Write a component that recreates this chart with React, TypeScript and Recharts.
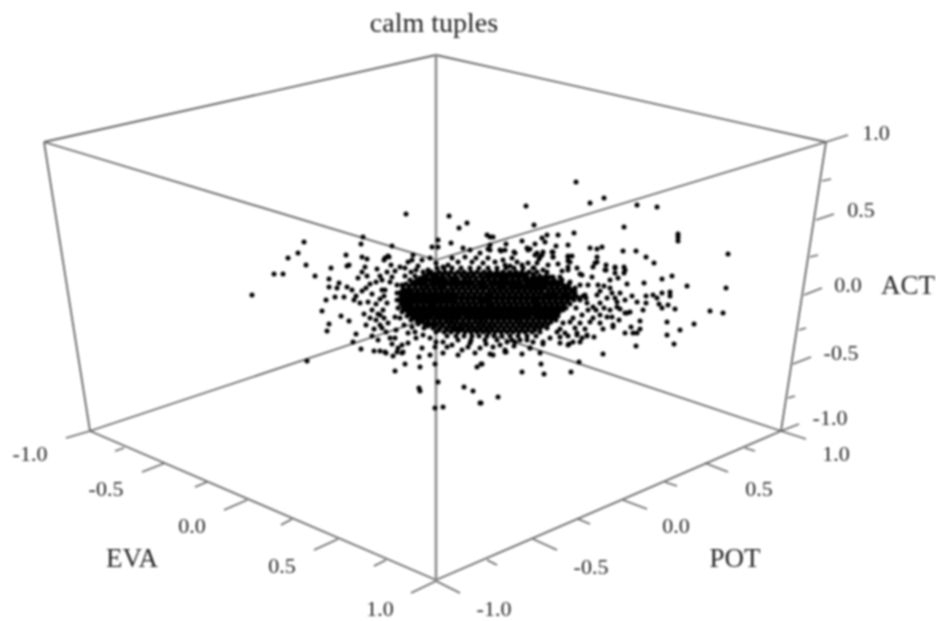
import React from 'react';
import { ScatterChart, Scatter, XAxis, YAxis, ReferenceLine, ReferenceDot } from 'recharts';

type Pt = [number, number];
type Seg = [number, number, number, number];
type Lab = [string, number, number];

// everything is read in the plane of the 3D projection (picture units)
const boxEdges: Seg[] = [
  [44, 142, 436, 55],
  [436, 55, 826, 142],
  [44, 142, 436, 260],
  [826, 142, 436, 260],
  [44, 142, 90, 431],
  [826, 142, 781, 431],
  [90, 431, 436, 580],
  [781, 431, 436, 580],
  [90, 431, 436, 316],
  [781, 431, 436, 316],
];
const frontEdge: Seg[] = [[436, 55, 436, 580]];

const evaTicks: Seg[] = [
  [90, 431, 66, 438], [124, 448, 115, 451], [165, 463, 142, 472], [207, 482, 195, 487], [247, 500, 224, 510],
  [292, 519, 281, 525], [338, 539, 314, 550], [386, 560, 374, 566], [436, 581, 411, 593],
];
const potTicks: Seg[] = [
  [436, 581, 460, 593], [487, 560, 497, 565], [533, 539, 557, 550], [578, 519, 590, 524], [623, 500, 647, 509],
  [665, 482, 677, 486], [705, 463, 728, 472], [745, 448, 755, 451], [781, 431, 806, 439],
];
const actTicks: Seg[] = [
  [826, 142, 848, 135], [822, 181, 831, 179], [816, 220, 834, 214], [810, 257, 818, 255], [804, 295, 822, 288],
  [799, 330, 806, 328], [793, 364, 811, 357], [788, 398, 795, 396], [781, 431, 799, 424],
];

const tickLabels: Lab[] = [
  ['-1.0', 30, 453], ['-0.5', 106, 488], ['0.0', 192, 525], ['0.5', 282, 565], ['1.0', 380, 608],
  ['-1.0', 494, 608], ['-0.5', 591, 566], ['0.0', 676, 525], ['0.5', 759, 488], ['1.0', 836, 453],
  ['1.0', 876, 132], ['0.5', 861, 209], ['0.0', 848, 284], ['-0.5', 841, 352], ['-1.0', 830, 417],
];
const axisLabels: Lab[] = [
  ['EVA', 132, 557],
  ['POT', 735, 557],
  ['ACT', 908, 284],
];

const leftOutliers: Pt[] = [
  [406, 214], [449, 216], [459, 228], [467, 223], [487, 235], [363, 237], [361, 244], [392, 246], [304, 242],
  [298, 253], [288, 258], [306, 265], [274, 274], [283, 274], [315, 276], [252, 295], [331, 268], [346, 255],
  [347, 266], [349, 265], [362, 257], [367, 259], [365, 267], [362, 272], [358, 278], [367, 276], [377, 269],
  [384, 260], [389, 257], [329, 279], [329, 287], [337, 288], [339, 283], [347, 287], [335, 297], [344, 297],
  [326, 300], [322, 311], [341, 316], [349, 321], [329, 324], [327, 331], [356, 334], [353, 342], [361, 349],
  [307, 361], [374, 351], [380, 351], [386, 353], [393, 356], [402, 353], [405, 364], [395, 371], [420, 367],
  [419, 357], [435, 364], [438, 382], [419, 388], [420, 391], [435, 408], [443, 407], [464, 387], [473, 391],
  [480, 403], [477, 367], [481, 364], [352, 290], [356, 296], [362, 291], [366, 288], [372, 294], [354, 300],
  [360, 303], [368, 302], [376, 304], [372, 310], [364, 314], [370, 318], [376, 320], [366, 325], [374, 329],
  [380, 299], [384, 296], [378, 314], [384, 318], [380, 325], [372, 336], [378, 340], [386, 332], [392, 344],
  [398, 348], [376, 282], [382, 280], [370, 284], [391, 265], [395, 271], [380, 276], [408, 262], [416, 270],
];

const rightOutliers: Pt[] = [
  [576, 182], [526, 206], [590, 203], [604, 198], [637, 205], [657, 207], [534, 225], [624, 227], [574, 233],
  [558, 235], [547, 235], [542, 238], [545, 242], [678, 234], [678, 237], [678, 241], [728, 254], [726, 288],
  [710, 311], [723, 313], [694, 324], [687, 286], [672, 276], [662, 279], [654, 263], [646, 257], [636, 251],
  [623, 251], [602, 247], [597, 249], [590, 248], [597, 257], [597, 262], [593, 267], [568, 245], [568, 256],
  [572, 256], [568, 261], [556, 246], [553, 252], [553, 257], [535, 244], [522, 241], [506, 244], [527, 248],
  [530, 249], [537, 253], [542, 255], [539, 259], [514, 252], [501, 251], [490, 237], [493, 237], [490, 245],
  [488, 249], [606, 265], [606, 270], [615, 267], [624, 267], [624, 273], [615, 273], [610, 280], [610, 288],
  [618, 278], [627, 284], [644, 283], [620, 293], [625, 300], [617, 302], [632, 296], [637, 302], [646, 296],
  [646, 303], [643, 310], [653, 295], [657, 298], [662, 293], [670, 292], [670, 296], [659, 304], [662, 308],
  [668, 305], [675, 309], [667, 322], [680, 330], [667, 335], [674, 344], [636, 346], [640, 321], [640, 329],
  [637, 333], [631, 327], [633, 333], [625, 333], [627, 313], [619, 320], [613, 327], [603, 354], [579, 362],
  [571, 372], [544, 374], [541, 364], [522, 372], [522, 354], [540, 353], [498, 397], [481, 403], [482, 364],
  [594, 337], [587, 336], [580, 342], [577, 335], [569, 344], [560, 337], [568, 336], [543, 344], [530, 348],
  [506, 352], [490, 354], [558, 264], [562, 271], [548, 265], [580, 274], [600, 291], [604, 286], [612, 293],
  [596, 310], [610, 310], [620, 309], [630, 312], [603, 329], [585, 329], [575, 328], [560, 329],
];

const upperLeftFringe: Pt[] = [
  [385, 258], [388, 256], [400, 267], [405, 268], [413, 255], [412, 260], [422, 260], [430, 258], [432, 247],
  [438, 240], [438, 247], [451, 243], [443, 267], [428, 270], [463, 248], [470, 250], [465, 257], [480, 253],
  [490, 250], [500, 250], [472, 262], [483, 263], [495, 262], [505, 265], [458, 262], [448, 265], [418, 266],
  [436, 263], [452, 258], [476, 258], [488, 258], [512, 258], [522, 265], [534, 268], [510, 266],
];

const leftFringe: Pt[] = [
  [387, 272], [390, 282], [382, 290], [385, 290], [397, 285], [402, 285], [397, 293], [397, 300], [387, 303],
  [383, 310], [380, 315], [395, 317], [400, 318], [388, 323], [382, 328], [390, 338], [395, 338], [408, 333],
  [415, 332], [408, 343], [402, 345], [423, 335], [422, 348], [430, 338], [435, 347], [443, 342], [452, 345],
  [462, 350], [470, 343], [480, 348], [493, 347], [505, 350], [397, 352], [403, 352], [385, 352], [430, 355],
  [443, 353], [458, 355], [475, 353], [493, 355], [392, 277], [405, 276], [411, 272], [398, 308], [404, 325],
  [412, 327], [396, 330], [416, 338], [436, 342], [447, 347], [468, 347], [486, 344], [500, 345], [514, 346],
];

const rightFringe: Pt[] = [
  [550, 277], [560, 277], [568, 270], [577, 268], [582, 275], [592, 277], [570, 282], [580, 285], [588, 285],
  [597, 295], [607, 298], [600, 303], [615, 298], [617, 307], [625, 313], [612, 317], [600, 315], [593, 307],
  [588, 310], [582, 315], [573, 318], [563, 323], [570, 322], [580, 323], [590, 322], [600, 323], [607, 317],
  [557, 332], [565, 333], [577, 333], [560, 343], [568, 345], [550, 338], [543, 342], [533, 342], [520, 340],
  [515, 342], [507, 342], [530, 348], [505, 352], [582, 338], [573, 342], [587, 335], [613, 325], [593, 318],
  [585, 295], [580, 300], [587, 303], [575, 292], [567, 295], [605, 270], [615, 268], [625, 270], [595, 263],
  [540, 257], [543, 252], [535, 255], [528, 250], [515, 253], [505, 250], [503, 260], [517, 262], [528, 263],
  [537, 263], [552, 252], [553, 257], [568, 257], [570, 262], [568, 267], [543, 270], [553, 277], [598, 285],
  [604, 308], [576, 308],
];

// solid core of the cloud: individual dots can't be told apart here, so these are estimates row by row
const coreRows: [number, number[]][] = [
  [268, [437, 444, 452, 461, 470, 479, 488, 497, 506, 514, 523, 533]],
  [272, [423, 431, 439, 445, 451, 458, 464, 471, 477, 484, 490, 497, 503, 510, 516, 522, 529, 537, 547]],
  [274, [428, 435, 442, 448, 455, 461, 467, 474, 481, 487, 494, 500, 507, 513, 519, 526, 533]],
  [276, [415, 424, 432, 437, 443, 449, 455, 462, 468, 473, 480, 486, 491, 498, 504, 509, 516, 522, 527, 534, 540, 546]],
  [278, [420, 427, 433, 439, 444, 451, 457, 464, 470, 476, 483, 489, 495, 501, 507, 513, 519, 525, 532, 538, 544]],
  [280, [410, 417, 423, 429, 435, 441, 446, 453, 458, 465, 470, 476, 482, 488, 494, 500, 505, 512, 518, 524, 529, 535, 541, 547, 554, 562]],
  [282, [414, 420, 426, 432, 438, 444, 450, 456, 462, 468, 473, 479, 485, 491, 497, 503, 509, 515, 521, 527, 533, 539, 545, 551, 558]],
  [284, [406, 412, 418, 424, 431, 436, 442, 448, 454, 460, 466, 471, 478, 483, 490, 495, 501, 507, 513, 519, 526, 531, 537, 543, 549, 555, 562, 569]],
  [286, [409, 415, 421, 428, 434, 440, 445, 451, 457, 463, 469, 475, 481, 487, 493, 499, 505, 511, 517, 523, 529, 535, 541, 546, 552, 558, 565]],
  [288, [403, 409, 415, 421, 426, 433, 439, 444, 451, 456, 462, 468, 474, 480, 485, 492, 498, 503, 510, 515, 521, 527, 533, 539, 545, 551, 557, 563, 569, 575]],
  [290, [405, 411, 417, 423, 429, 435, 441, 447, 453, 459, 465, 471, 477, 483, 489, 495, 501, 507, 513, 519, 525, 531, 536, 542, 548, 554, 560, 566, 572]],
  [292, [401, 407, 412, 418, 424, 430, 436, 442, 448, 453, 459, 465, 471, 477, 483, 489, 494, 500, 506, 512, 518, 524, 530, 536, 541, 548, 553, 559, 565, 571]],
  [294, [403, 409, 415, 420, 426, 432, 438, 444, 450, 456, 462, 468, 474, 480, 486, 491, 497, 503, 509, 515, 521, 527, 533, 539, 544, 550, 556, 562, 568, 574]],
  [296, [401, 405, 411, 417, 423, 428, 434, 440, 446, 452, 457, 463, 469, 475, 481, 487, 492, 498, 504, 510, 516, 522, 528, 534, 539, 546, 552, 557, 563, 569, 576, 583]],
  [298, [403, 408, 413, 419, 425, 431, 436, 442, 448, 454, 460, 466, 472, 478, 483, 489, 495, 501, 507, 513, 519, 525, 531, 536, 542, 548, 554, 560, 566, 572, 579, 586]],
  [300, [399, 405, 410, 416, 422, 428, 433, 439, 445, 451, 456, 462, 468, 474, 480, 486, 491, 497, 503, 509, 515, 521, 527, 533, 538, 544, 550, 556, 562, 568, 574]],
  [302, [403, 408, 414, 420, 426, 431, 437, 443, 449, 455, 461, 467, 473, 479, 484, 490, 496, 502, 508, 514, 520, 526, 532, 537, 543, 549, 555, 561, 567]],
  [304, [401, 407, 412, 418, 424, 430, 435, 441, 447, 453, 458, 464, 470, 476, 482, 488, 493, 499, 505, 511, 517, 523, 529, 535, 540, 546, 552, 558, 564, 570]],
  [306, [405, 411, 417, 423, 429, 434, 440, 446, 452, 458, 463, 469, 475, 481, 487, 492, 498, 504, 510, 516, 522, 528, 534, 539, 545, 551, 557, 563]],
  [308, [403, 409, 415, 420, 426, 432, 438, 443, 449, 455, 461, 466, 472, 478, 484, 490, 495, 501, 507, 513, 519, 525, 531, 537, 542, 548, 554, 560, 566]],
  [310, [406, 412, 418, 423, 429, 435, 441, 446, 452, 458, 464, 469, 475, 481, 487, 493, 498, 504, 510, 516, 522, 528, 534, 539, 545, 551, 557, 563]],
  [312, [402, 408, 414, 420, 425, 431, 437, 443, 448, 454, 460, 466, 472, 478, 483, 489, 495, 501, 507, 513, 518, 524, 530, 536, 542, 548, 553, 559]],
  [314, [410, 416, 422, 427, 433, 439, 445, 451, 456, 462, 468, 474, 480, 486, 491, 497, 503, 509, 515, 521, 526, 532, 538, 544, 550, 556]],
  [316, [407, 412, 418, 424, 430, 436, 441, 447, 453, 459, 465, 470, 476, 482, 488, 494, 499, 505, 511, 517, 523, 529, 535, 540, 546, 552, 558]],
  [318, [414, 420, 426, 431, 437, 443, 449, 455, 460, 466, 472, 478, 484, 490, 495, 501, 507, 513, 519, 525, 530, 536, 542, 548, 554]],
  [320, [411, 417, 423, 428, 434, 440, 446, 452, 457, 463, 469, 475, 481, 486, 492, 498, 504, 510, 516, 521, 527, 533, 539, 545, 551, 556]],
  [322, [421, 428, 434, 440, 446, 451, 457, 463, 469, 475, 480, 486, 492, 498, 504, 510, 516, 521, 527, 533, 539, 545, 551]],
  [324, [418, 425, 431, 437, 443, 449, 454, 460, 466, 472, 478, 483, 489, 495, 501, 507, 513, 519, 524, 530, 536, 542, 548]],
  [326, [428, 435, 442, 449, 455, 461, 467, 472, 478, 484, 490, 495, 501, 507, 513, 519, 525, 531, 537, 543]],
  [328, [424, 433, 440, 446, 452, 458, 463, 469, 475, 481, 487, 492, 498, 504, 510, 516, 522, 528, 534, 540, 547]],
  [330, [439, 447, 454, 461, 468, 474, 480, 486, 492, 498, 504, 510, 516, 522, 528, 535]],
  [332, [436, 444, 451, 458, 465, 471, 477, 483, 489, 495, 501, 507, 513, 519, 525, 532, 540]],
  [336, [447, 456, 464, 472, 479, 487, 494, 502, 510, 518, 527, 536]],
  [340, [458, 471, 485, 497, 512, 527]],
];

const corePoints = coreRows.flatMap(([y, xs]) => xs.map((x) => [x, y] as Pt));
const cloud = [...leftOutliers, ...rightOutliers, ...upperLeftFringe, ...leftFringe, ...rightFringe, ...corePoints]
  .map(([x, y]) => ({ x, y }));

const Dot3d = ({ cx, cy }: any) => <circle cx={cx} cy={cy} r={2.5} fill="#000" />;

const segLine = (s: Seg, key: string, stroke: string, width: number) => (
  <ReferenceLine
    key={key}
    segment={[{ x: s[0], y: s[1] }, { x: s[2], y: s[3] }]}
    stroke={stroke}
    strokeWidth={width}
    ifOverflow="visible"
  />
);

const textMark = (l: Lab, key: string, size: number) => (
  <ReferenceDot
    key={key}
    x={l[1]}
    y={l[2]}
    r={0}
    stroke="none"
    ifOverflow="visible"
    label={{ value: l[0], position: 'center', fontSize: size, fill: '#222', fontFamily: 'Liberation Serif' }}
  />
);

export default function App() {
  return (
    <div style={{ position: 'absolute', left: 0, top: 0, width: 936, height: 621, background: '#fff', filter: 'blur(0.8px)' }}>
      <ScatterChart width={936} height={621} margin={{ top: 0, right: 0, bottom: 0, left: 0 }}>
        <XAxis type="number" dataKey="x" domain={[0, 936]} hide />
        <YAxis type="number" dataKey="y" domain={[0, 621]} reversed hide />
        {boxEdges.map((s, i) => segLine(s, `edge-${i}`, '#666', 1.8))}
        {frontEdge.map((s, i) => segLine(s, `front-${i}`, '#8c8c8c', 2.6))}
        {[...evaTicks, ...potTicks, ...actTicks].map((s, i) => segLine(s, `tick-${i}`, '#666', 1.6))}
        <Scatter data={cloud} dataKey="y" shape={Dot3d} isAnimationActive={false} />
        {tickLabels.map((l, i) => textMark(l, `tl-${i}`, 22))}
        {axisLabels.map((l, i) => textMark(l, `al-${i}`, 27))}
        {textMark(['calm tuples', 434, 22], 'title', 28)}
      </ScatterChart>
    </div>
  );
}
